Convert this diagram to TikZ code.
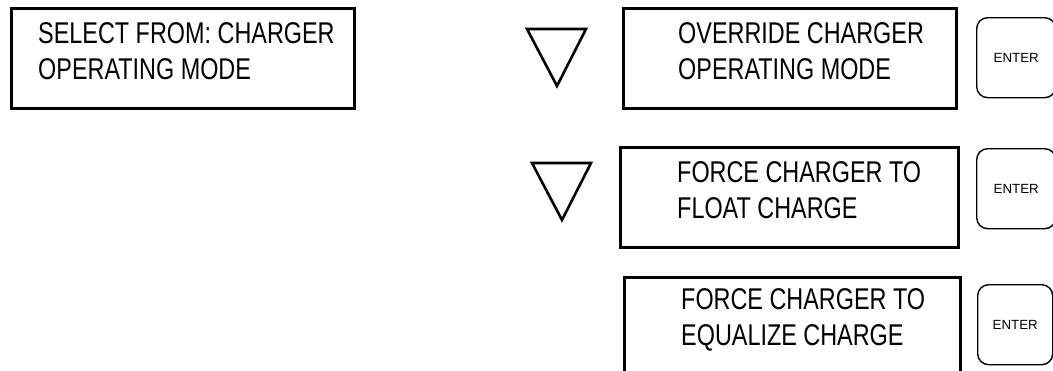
\documentclass[tikz,border=0pt]{standalone}
\usepackage{fontspec}
\setmainfont{Liberation Sans}
\newfontfamily\narrowfont[FakeStretch=0.78]{Liberation Sans}
\usepackage{tikz}
\usetikzlibrary{positioning,calc}

\begin{document}
\begin{tikzpicture}[x=1pt,y=-1pt,
  panel/.style={draw,line width=2.6pt,anchor=north west,minimum height=100pt,inner sep=0pt},
  paneltext/.style={anchor=north west,inner sep=0pt,align=left,font=\narrowfont\fontsize{30}{36}\selectfont},
  enterkey/.style={draw,line width=1.4pt,rounded corners=11pt,anchor=north west,minimum width=79pt,minimum height=80pt,inner sep=0pt,font=\fontsize{13.3}{15}\selectfont},
  downkey/.style={draw,line width=2.6pt,line join=miter}]
  \useasboundingbox (0,0) rectangle (1053,370);
  \clip (0,0) rectangle (1053,370);

  % display panels
  \node[panel,minimum width=343pt] (select) at (10,7) {};
  \node[panel,minimum width=333pt] (override) at (622,7) {};
  \node[panel,minimum width=338pt] (float) at (619,146) {};
  \node[panel,minimum width=336pt] (equalize) at (623,276) {};

  \node[paneltext] (selecttxt) at ([shift={(28,15)}]select.north west) {SELECT FROM: CHARGER\\OPERATING MODE};
  \node[paneltext] (overridetxt) at ([shift={(56,15)}]override.north west) {OVERRIDE CHARGER\\OPERATING MODE};
  \node[paneltext] (floattxt) at ([shift={(58,15)}]float.north west) {FORCE CHARGER TO\\FLOAT CHARGE};
  \node[paneltext] (equalizetxt) at ([shift={(58,12)}]equalize.north west) {FORCE CHARGER TO\\EQUALIZE CHARGE};

  % scroll keys
  \draw[downkey] (527,29) -- (586,29) -- (557,86) -- cycle;
  \draw[downkey] (532,163) -- (591,163) -- (562,220) -- cycle;

  % enter keys
  \node[enterkey] (enterA) at (976,17) {ENTER};
  \node[enterkey] (enterB) at (976,148) {ENTER};
  \node[enterkey,minimum width=75pt] (enterC) at (977,284) {ENTER};
\end{tikzpicture}
\end{document}
